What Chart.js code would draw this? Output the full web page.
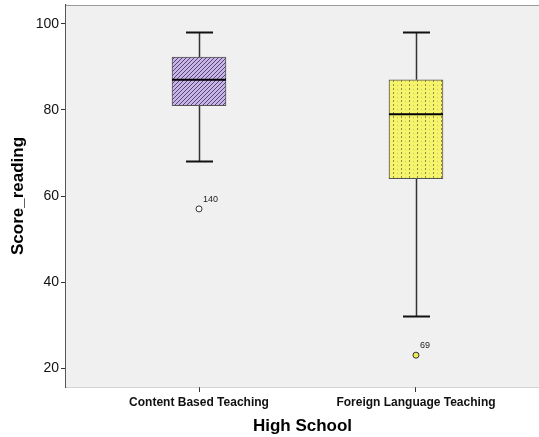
<!DOCTYPE html>
<html>
<head>
<meta charset="utf-8">
<script src="https://cdn.jsdelivr.net/npm/chart.js@4/dist/chart.umd.min.js"></script>
<style>
  html,body{margin:0;padding:0;background:#fff;}
  #wrap{width:539px;height:437px;}
</style>
</head>
<body>
<div id="wrap"><canvas id="chart" width="539" height="437"></canvas></div>
<script>
// box plot values
const categories=['Content Based Teaching','Foreign Language Teaching'];
const whiskerLow=[68,32];
const q1=[81,64];
const medians=[87,79];
const q3=[92.3,87];
const whiskerHigh=[98,98];
const outlierValues=[57,23];
const outlierIds=['140','69'];
const yTicks=[20,40,60,80,100];

const FONT="Arial, 'Liberation Sans', sans-serif";

function hatchPattern(){
  const c=document.createElement('canvas');c.width=4;c.height=4;
  const g=c.getContext('2d');
  g.fillStyle='#C9B4EA';g.fillRect(0,0,4,4);
  g.strokeStyle='#463a5e';g.lineWidth=0.9;
  g.beginPath();
  g.moveTo(0,4);g.lineTo(4,0);
  g.moveTo(-1,1);g.lineTo(1,-1);
  g.moveTo(3,5);g.lineTo(5,3);
  g.stroke();
  return g.createPattern(c,'repeat');
}
function dotPattern(){
  const c=document.createElement('canvas');c.width=8;c.height=4;
  const g=c.getContext('2d');
  g.fillStyle='#F6F46C';g.fillRect(0,0,8,4);
  g.fillStyle='#8f8c3e';g.fillRect(1,0,1,2);
  g.fillStyle='#c9c65c';g.fillRect(5,1,1,1);
  return g.createPattern(c,'repeat');
}

const boxPlot={
  id:'boxPlot',
  beforeDatasetsDraw(chart){
    const {ctx,chartArea:a}=chart;
    ctx.save();
    ctx.fillStyle='#F0F0F0';
    ctx.fillRect(a.left,a.top,a.right-a.left,a.bottom-a.top);
    ctx.strokeStyle='#9a9a9a';ctx.lineWidth=1;
    ctx.beginPath();ctx.moveTo(a.left,a.top+0.5);ctx.lineTo(a.right,a.top+0.5);ctx.stroke();
    // whiskers
    const xs=chart.scales.x,ys=chart.scales.y;
    const bars=chart.getDatasetMeta(0).data;
    categories.forEach((c,i)=>{
      const x=Math.round(xs.getPixelForValue(i+1))+0.5;
      const half=bars[i].width/4;
      ctx.strokeStyle='#333';ctx.lineWidth=1.5;
      ctx.beginPath();
      ctx.moveTo(x,ys.getPixelForValue(q3[i]));ctx.lineTo(x,ys.getPixelForValue(whiskerHigh[i]));
      ctx.moveTo(x,ys.getPixelForValue(q1[i]));ctx.lineTo(x,ys.getPixelForValue(whiskerLow[i]));
      ctx.stroke();
      ctx.strokeStyle='#111';ctx.lineWidth=2;
      ctx.beginPath();
      [whiskerHigh[i],whiskerLow[i]].forEach(v=>{
        const y=ys.getPixelForValue(v);
        ctx.moveTo(x-half,y);ctx.lineTo(x+half,y);
      });
      ctx.stroke();
    });
    ctx.restore();
  },
  afterDatasetsDraw(chart){
    const {ctx}=chart;
    const xs=chart.scales.x,ys=chart.scales.y;
    const bars=chart.getDatasetMeta(0).data;
    ctx.save();
    categories.forEach((c,i)=>{
      const x=xs.getPixelForValue(i+1);
      const w=bars[i].width;
      const y=ys.getPixelForValue(medians[i]);
      ctx.strokeStyle='#000';ctx.lineWidth=2;
      ctx.beginPath();ctx.moveTo(x-w/2,y);ctx.lineTo(x+w/2,y);ctx.stroke();
      ctx.fillStyle='#222';ctx.font='9px '+FONT;
      ctx.textAlign='left';ctx.textBaseline='alphabetic';
      ctx.fillText(outlierIds[i],x+4,ys.getPixelForValue(outlierValues[i])-7);
    });
    ctx.restore();
  }
};

new Chart(document.getElementById('chart'),{
  type:'bar',
  data:{
    datasets:[
      {
        type:'bar',
        data:categories.map((c,i)=>({x:i+1,y:[q1[i],q3[i]]})),
        backgroundColor:[hatchPattern(),dotPattern()],
        borderColor:'#555',borderWidth:1,borderSkipped:false,
        barThickness:54,order:2
      },
      {
        type:'scatter',
        data:categories.map((c,i)=>({x:i+1,y:outlierValues[i]})),
        pointRadius:3,pointBorderWidth:1,
        pointBackgroundColor:['#ffffff','#EDEB5A'],
        pointBorderColor:'#333',order:1
      }
    ]
  },
  options:{
    responsive:false,animation:false,
    layout:{autoPadding:false,padding:{top:5,right:0,left:0,bottom:0}},
    plugins:{legend:{display:false},tooltip:{enabled:false}},
    scales:{
      x:{
        type:'linear',min:0.387,max:2.567,offset:false,
        afterBuildTicks:s=>{s.ticks=categories.map((c,i)=>({value:i+1}));},
        afterFit:s=>{s.height=50;s.paddingLeft=0;s.paddingRight=0;},
        grid:{offset:false,drawOnChartArea:false,drawTicks:true,tickLength:5,color:'#333'},
        border:{display:true,color:'#555',width:1.2},
        ticks:{callback:v=>categories[v-1],maxRotation:0,autoSkip:false,color:'#111',padding:3,font:{family:FONT,size:12,weight:'bold'}},
        title:{display:true,text:'High School',color:'#000',padding:{top:3,bottom:0},font:{family:FONT,size:17,weight:'bold'}}
      },
      y:{
        min:15.6,max:104.4,
        afterBuildTicks:s=>{s.ticks=yTicks.map(v=>({value:v}));},
        afterFit:s=>{s.width=66;s.paddingTop=0;s.paddingBottom=0;},
        grid:{drawOnChartArea:false,drawTicks:true,tickLength:5,color:'#333'},
        border:{display:true,color:'#555',width:1.2},
        ticks:{color:'#111',padding:2,font:{family:FONT,size:14}},
        title:{display:true,text:'Score_reading',color:'#000',padding:{top:8,bottom:0},font:{family:FONT,size:17,weight:'bold'}}
      }
    }
  },
  plugins:[boxPlot]
});
</script>
</body>
</html>
